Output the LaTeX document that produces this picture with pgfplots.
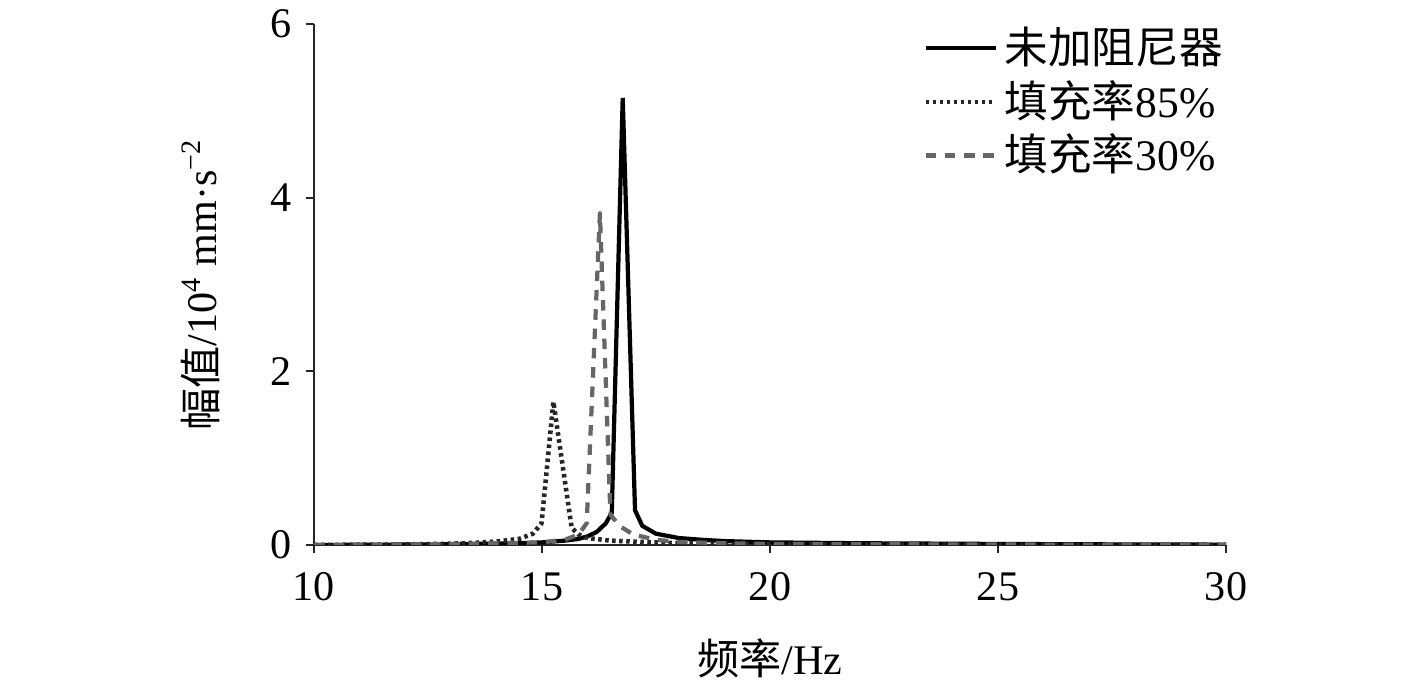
\documentclass[border=0pt]{standalone}
\usepackage{fontspec}
\setmainfont{Liberation Serif}
\newfontfamily\cjk{Noto Sans CJK SC}
\usepackage{pgfplots}
\pgfplotsset{compat=1.18}

\begin{document}
\fontsize{12}{14}\selectfont
\begin{tikzpicture}
\path[use as bounding box] (-3.14,-1.40) rectangle (11.03,5.45);
\begin{axis}[
  at={(0,0)}, anchor=origin,
  scale only axis, width=9.12cm, height=5.21cm,
  xmin=10, xmax=30, ymin=0, ymax=6,
  xtick={10,15,20,25,30}, ytick={0,2,4,6},
  axis x line*=bottom, axis y line*=left,
  axis line style={black!85, line width=0.6pt},
  tick align=outside, major tick length=0.08cm,
  tick style={black!85, line width=0.6pt},
  /pgf/number format/assume math mode=true,
  ticklabel style={font=\fontsize{12}{14}\selectfont},
  xticklabel style={yshift=-0.05cm},
  xlabel={{\cjk 频率}/Hz},
  xlabel style={font=\fontsize{12}{14}\selectfont, at={(axis description cs:0.5,0)}, anchor=center, yshift=-1.13cm},
  ylabel={{\cjk 幅值}/10\textsuperscript{4} mm·s\textsuperscript{−2}},
  ylabel style={font=\fontsize{12}{14}\selectfont, at={(axis description cs:-0.125,0.5)}, anchor=center},
  legend style={at={(1,1)}, anchor=north east, xshift=0.15cm, yshift=0.12cm,
    draw=none, fill=none, font=\fontsize{12.4}{14}\selectfont, row sep=-1pt,
    legend cell align=left,
    /tikz/every even column/.append style={column sep=0.2cm}},
  legend image code/.code={\draw[#1] (0cm,0cm) -- (0.7cm,0cm);},
]
% 未加阻尼器
\addplot[black, line width=1.2pt] coordinates {
  (10,0) (12,0.005) (13,0.01) (14,0.015) (14.5,0.02) (15,0.03) (15.5,0.05)
  (15.8,0.07) (16,0.1) (16.2,0.15) (16.4,0.25) (16.53,0.37) (16.77,5.15)
  (17.04,0.40) (17.2,0.22) (17.5,0.13) (18,0.08) (18.5,0.06) (19,0.045)
  (20,0.03) (22,0.02) (25,0.012) (28,0.006) (30,0.004)
};
\addlegendentry{\cjk 未加阻尼器}
% 填充率85%
\addplot[black!85, line width=1.3pt, line join=round, dash pattern=on 1pt off 1pt] coordinates {
  (10,0) (12,0.005) (13,0.015) (13.5,0.025) (14,0.04) (14.5,0.07) (14.8,0.13)
  (14.99,0.25) (15.25,1.65) (15.65,0.2) (15.8,0.12) (16,0.08) (16.5,0.05)
  (17,0.04) (17.5,0.03) (18,0.02) (19,0.01) (20,0.006) (25,0.002) (30,0.001)
};
\addlegendentry{\cjk 填充率{\rmfamily 85\%}}
% 填充率30%
\addplot[black!60, line width=1.2pt, line join=round, dash pattern=on 3pt off 2.5pt] coordinates {
  (10,0) (12,0.005) (13,0.01) (14,0.02) (15,0.03) (15.5,0.06) (15.8,0.12)
  (15.98,0.25) (16.27,3.82) (16.5,0.35) (16.7,0.22) (17,0.12) (17.5,0.06)
  (18,0.035) (19,0.02) (20,0.012) (25,0.005) (30,0.002)
};
\addlegendentry{\cjk 填充率{\rmfamily 30\%}}
\end{axis}
\end{tikzpicture}
\end{document}
